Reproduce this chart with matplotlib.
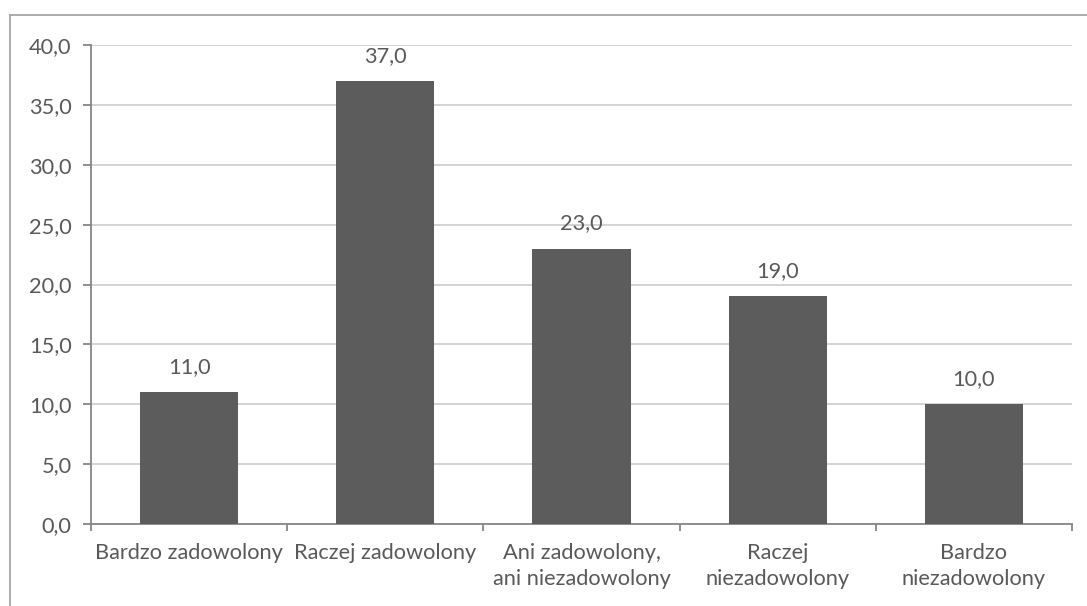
import matplotlib.pyplot as plt
from matplotlib.lines import Line2D
from matplotlib.ticker import MultipleLocator, FuncFormatter

# Dane wykresu
kategorie = ["Bardzo zadowolony", "Raczej zadowolony", "Ani zadowolony,\nani niezadowolony",
             "Raczej\nniezadowolony", "Bardzo\nniezadowolony"]
wartosci = [11.0, 37.0, 23.0, 19.0, 10.0]

KOLOR_SLUPKA = "#5c5c5c"
KOLOR_TEKSTU = "#595959"
KOLOR_SIATKI = "#d0d0d0"
KOLOR_OSI = "#868686"
ROZMIAR = 15.7

plt.rcParams['font.family'] = ['Lato', 'DejaVu Sans']

fig = plt.figure(figsize=(10.87, 6.06), dpi=100)
ax = fig.add_axes([91 / 1087, 1 - 524 / 606, (1072 - 91) / 1087, (524 - 45) / 606])

pozycje = list(range(len(kategorie)))
ax.bar(pozycje, wartosci, width=0.5, color=KOLOR_SLUPKA, zorder=3)

# Etykiety danych nad słupkami
for x, v in zip(pozycje, wartosci):
    ax.annotate(f"{v:.1f}".replace('.', ','), (x, v), xytext=(0, 11),
                textcoords='offset points', ha='center', va='bottom',
                fontsize=ROZMIAR, color=KOLOR_TEKSTU)

ax.set_xlim(-0.5, len(kategorie) - 0.5)
ax.set_ylim(0, 40)
ax.yaxis.set_major_locator(MultipleLocator(5))
ax.yaxis.set_major_formatter(FuncFormatter(lambda v, p: f"{v:.1f}".replace('.', ',')))
ax.grid(axis='y', color=KOLOR_SIATKI, linewidth=1.3, zorder=0)

# Oś X: znaczniki na granicach kategorii, etykiety pośrodku
ax.set_xticks([i - 0.5 for i in range(len(kategorie) + 1)])
ax.set_xticklabels([])
ax.set_xticks(pozycje, minor=True)
ax.set_xticklabels(kategorie, minor=True, fontsize=ROZMIAR, color=KOLOR_TEKSTU, linespacing=1.32)
ax.tick_params(axis='x', which='minor', length=0, pad=14)
ax.tick_params(axis='x', which='major', length=5, width=1.3, color=KOLOR_OSI, direction='out')
ax.tick_params(axis='y', length=6, width=1.3, color=KOLOR_OSI, labelsize=ROZMIAR,
               labelcolor=KOLOR_TEKSTU, pad=8)

for s in ['top', 'right']:
    ax.spines[s].set_visible(False)
for s in ['left', 'bottom']:
    ax.spines[s].set_color(KOLOR_OSI)
    ax.spines[s].set_linewidth(1.3)

# Ramka obszaru wykresu (ucięta z prawej i od dołu)
fig.add_artist(Line2D([10 / 1087, 1], [1 - 15 / 606, 1 - 15 / 606], color="#a6a6a6", linewidth=1.3))
fig.add_artist(Line2D([10 / 1087, 10 / 1087], [0, 1 - 15 / 606], color="#a6a6a6", linewidth=1.3))

fig.savefig("out.png", dpi=100)
